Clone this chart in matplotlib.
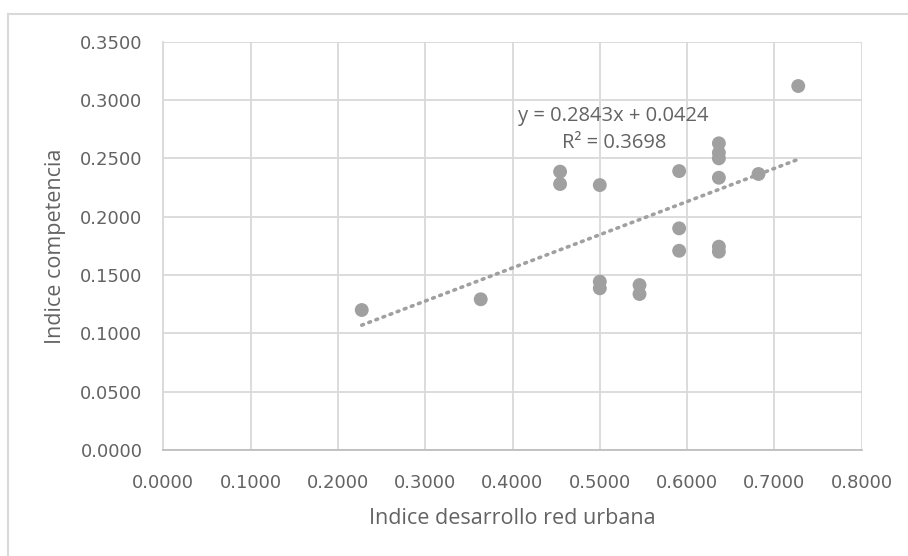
import matplotlib
matplotlib.use("Agg")
import matplotlib.pyplot as plt
from matplotlib.lines import Line2D
import numpy as np

# Urban network development index vs. competence index
desarrollo_red = [0.2273, 0.3636, 0.4545, 0.4545, 0.5000, 0.5000, 0.5000,
                  0.5455, 0.5455, 0.5909, 0.5909, 0.5909, 0.6364, 0.6364,
                  0.6364, 0.6364, 0.6364, 0.6364, 0.6818, 0.7273]
competencia = [0.1200, 0.1292, 0.2386, 0.2280, 0.2271, 0.1443, 0.1386,
               0.1414, 0.1337, 0.2391, 0.1900, 0.1708, 0.2629, 0.2548,
               0.2500, 0.2334, 0.1743, 0.1700, 0.2366, 0.3120]

# Linear trend shown on the chart
pendiente = 0.2843
intercepto = 0.0424
r2 = 0.3698

x_ticks = [0.0, 0.1, 0.2, 0.3, 0.4, 0.5, 0.6, 0.7, 0.8]
y_ticks = [0.0, 0.05, 0.10, 0.15, 0.20, 0.25, 0.30, 0.35]

W, H = 908, 556
fig = plt.figure(figsize=(W / 100, H / 100), dpi=100)
fig.patch.set_facecolor("white")

tick_font = "DejaVu Sans"
font = "Open Sans"
txt_color = "#636363"
grid_color = "#d9d9d9"
mark_color = "#a0a0a0"

# outer chart frame (left and top edges)
fig.add_artist(Line2D([7.5 / W, 7.5 / W], [0, 1 - 14 / H], transform=fig.transFigure,
                      color=grid_color, lw=1.5))
fig.add_artist(Line2D([7.5 / W, 1], [1 - 14 / H, 1 - 14 / H], transform=fig.transFigure,
                      color=grid_color, lw=1.5))

left, right = 163.3 / W, 861.7 / W
bottom, top = 1 - 450 / H, 1 - 41.7 / H
ax = fig.add_axes([left, bottom, right - left, top - bottom])

ax.set_xlim(0, 0.8)
ax.set_ylim(0, 0.35)
ax.set_xticks(x_ticks)
ax.set_yticks(y_ticks)
ax.set_xticklabels([f"{v:.4f}" for v in x_ticks], fontfamily=tick_font, fontsize=13, color=txt_color)
ax.set_yticklabels([f"{v:.4f}" for v in y_ticks], fontfamily=tick_font, fontsize=13, color=txt_color)
ax.tick_params(length=0)
ax.tick_params(axis="y", pad=15)
ax.tick_params(axis="x", pad=17)

ax.grid(True, color=grid_color, lw=1.3)
ax.set_axisbelow(True)
for side in ["top", "right"]:
    ax.spines[side].set_visible(False)
ax.spines["left"].set_color(grid_color)
ax.spines["left"].set_linewidth(1.3)
ax.spines["bottom"].set_color("#bfbfbf")
ax.spines["bottom"].set_linewidth(1.3)

ax.scatter(desarrollo_red, competencia, s=100, color=mark_color, edgecolors="none", zorder=3)

xs = np.array([min(desarrollo_red), max(desarrollo_red)])
ax.plot(xs, pendiente * xs + intercepto, color=mark_color, lw=2.6,
        linestyle=(0, (0.5, 1.6)), dash_capstyle="round", zorder=2)

ax.text(0.5153, 0.2865, f"y = {pendiente:.4f}x + {intercepto:.4f}", ha="center", va="center",
        fontfamily=font, fontsize=14.5, color=txt_color)
ax.text(0.5160, 0.2629, f"R² = {r2:.4f}", ha="center", va="center",
        fontfamily=font, fontsize=14.5, color=txt_color)

ax.set_xlabel("Indice desarrollo red urbana", fontfamily=font, fontsize=15.5, color=txt_color, labelpad=12)
ax.set_ylabel("Indice competencia", fontfamily=font, fontsize=15.5, color=txt_color, labelpad=10)

fig.savefig("out.png", dpi=100, facecolor="white")
